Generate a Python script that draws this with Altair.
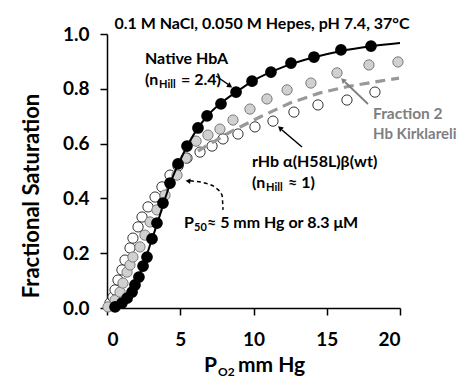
import altair as alt
import pandas as pd

FONT = "Lato"

# ---- data ----
native_x = [0.55, 1.02, 1.37, 1.71, 1.91, 2.18, 2.46, 2.73, 3.07, 3.41, 3.82, 4.30, 4.85,
            5.46, 6.21, 6.83, 7.78, 8.81, 9.90, 11.19, 12.56, 14.13, 15.97, 18.02]
native_y = [0.004, 0.018, 0.036, 0.058, 0.084, 0.113, 0.153, 0.186, 0.252, 0.310, 0.383,
            0.456, 0.526, 0.591, 0.657, 0.701, 0.745, 0.788, 0.828, 0.861, 0.894, 0.916,
            0.942, 0.956]

frac2_x = [0.07, 0.55, 0.89, 1.09, 1.37, 1.57, 1.77, 2.25, 2.59, 2.94, 3.41, 3.96, 4.78,
           5.39, 6.08, 6.89, 7.71, 8.60, 9.76, 10.92, 12.29, 13.92, 15.70, 17.88, 19.86]
frac2_y = [0.004, 0.029, 0.058, 0.091, 0.131, 0.157, 0.186, 0.223, 0.266, 0.314, 0.358,
           0.412, 0.485, 0.547, 0.609, 0.631, 0.653, 0.686, 0.726, 0.763, 0.796, 0.821,
           0.858, 0.887, 0.898]

rhb_x = [0.20, 0.41, 0.55, 0.75, 1.02, 1.23, 1.57, 1.77, 2.12, 2.39, 2.80, 3.28, 3.75,
         4.30, 4.85, 5.46, 6.35, 7.17, 7.92, 8.94, 10.10, 11.33, 12.76, 14.40, 16.38, 18.29]
rhb_y = [0.018, 0.040, 0.066, 0.102, 0.139, 0.175, 0.219, 0.255, 0.296, 0.332, 0.369,
         0.405, 0.442, 0.485, 0.518, 0.547, 0.569, 0.591, 0.617, 0.635, 0.661, 0.682,
         0.715, 0.741, 0.759, 0.788]

fit_x = [0.4, 1, 1.5, 2, 2.5, 3, 3.5, 4, 4.5, 5, 6, 7, 8, 9, 10, 12, 14, 16, 18, 20]
fit_y = [0.0, 0.015, 0.045, 0.095, 0.16, 0.24, 0.32, 0.405, 0.48, 0.54, 0.64, 0.71,
         0.757, 0.795, 0.83, 0.879, 0.913, 0.938, 0.955, 0.967]

dash_x = [6.21, 8.40, 10.44, 12.49, 14.54, 16.59, 18.63, 19.93]
dash_y = [0.573, 0.642, 0.697, 0.748, 0.785, 0.810, 0.828, 0.839]

p50_arrow_x = [7.92, 7.85, 7.44, 6.69, 5.66]
p50_arrow_y = [0.358, 0.412, 0.438, 0.456, 0.464]

x_ticks = [0, 5, 10, 15, 20]
y_ticks = [0.0, 0.2, 0.4, 0.6, 0.8, 1.0]

# ---- geometry of the frame ----
LEFT, TOP, W, H = 107, 34, 293, 274

xscale = alt.Scale(domain=[0, 20], nice=False, zero=False)
yscale = alt.Scale(domain=[0, 1], nice=False)

axis_common = dict(labelFont=FONT, labelFontSize=19, labelFontWeight="bold",
                   labelColor="black", tickColor="black", tickWidth=1.5, tickSize=7,
                   domainColor="black", domainWidth=1.5, grid=False, title=None)

X = alt.X("x:Q", scale=xscale,
          axis=alt.Axis(values=x_ticks, format="d", labelPadding=15, **axis_common))
Y = alt.Y("y:Q", scale=yscale,
          axis=alt.Axis(values=y_ticks, format=".1f", labelPadding=11, **axis_common))


def df(xs, ys):
    return pd.DataFrame({"x": xs, "y": ys})


rhb = alt.Chart(df(rhb_x, rhb_y)).mark_point(
    filled=True, fill="white", stroke="#333333", strokeWidth=1, size=105, opacity=1
).encode(x=X, y=Y)

frac2 = alt.Chart(df(frac2_x, frac2_y)).mark_point(
    filled=True, fill="#d0d0d0", stroke="#7a7a7a", strokeWidth=1, size=105, opacity=1
).encode(x=X, y=Y)

dashed = alt.Chart(df(dash_x, dash_y)).mark_line(
    color="#999999", strokeWidth=3.2, strokeDash=[10, 6]
).encode(x=X, y=Y)

native = alt.Chart(df(native_x, native_y)).mark_point(
    filled=True, fill="black", stroke="black", size=95, opacity=1
).encode(x=X, y=Y)

fit = alt.Chart(df(fit_x, fit_y)).mark_line(
    color="black", strokeWidth=2, interpolate="monotone"
).encode(x=X, y=Y)

p50_curve = alt.Chart(df(p50_arrow_x, p50_arrow_y)).mark_line(
    color="black", strokeWidth=1.5, strokeDash=[4, 3], interpolate="monotone"
).encode(x=X, y=Y)

one = pd.DataFrame({"a": [0]})


def txt(s, x, y, size=16, color="black", align="left", angle=None):
    kw = dict(text=s, font=FONT, fontSize=size, fontWeight="bold", color=color,
              align=align, baseline="middle")
    if angle is not None:
        kw["angle"] = angle
    return alt.Chart(one).mark_text(**kw).encode(
        x=alt.value(x - LEFT), y=alt.value(y - TOP))


def seg(x1, y1, x2, y2, color="black", width=1.5):
    return alt.Chart(one).mark_rule(color=color, strokeWidth=width).encode(
        x=alt.value(x1 - LEFT), y=alt.value(y1 - TOP),
        x2=alt.value(x2 - LEFT), y2=alt.value(y2 - TOP))


def head(x, y, shape, angle, color="black", size=35):
    return alt.Chart(one).mark_point(shape=shape, angle=angle, filled=True,
                                     color=color, size=size, opacity=1).encode(
        x=alt.value(x - LEFT), y=alt.value(y - TOP))


annotations = [
    txt("0.1 M NaCl, 0.050 M Hepes, pH 7.4, 37°C", 262, 24, size=16, align="center"),
    txt("Fractional Saturation", 32, 196, size=22, align="center", angle=270),
    txt("P", 204, 366, size=21),
    txt("O2", 218, 372, size=12),
    txt("mm Hg", 238, 366, size=21),
    txt("Native HbA", 145, 59),
    txt("(n", 145, 80),
    txt("Hill", 159, 85, size=11),
    txt("= 2.4)", 181, 80),
    seg(216, 76, 229, 85),
    head(230, 86, "triangle-right", 33),
    txt("Fraction 2", 373, 114, size=15.5, color="#7f7f7f"),
    txt("Hb Kirklareli", 373, 134, size=15, color="#7f7f7f"),
    seg(368, 104, 345, 82, color="#7f7f7f", width=1.8),
    head(343, 80, "triangle-left", 44, color="#7f7f7f"),
    txt("rHb α(H58L)β(wt)", 252, 162),
    txt("(n", 252, 183),
    txt("Hill", 266, 188, size=11),
    txt("≈ 1)", 288, 183),
    seg(302, 147, 282, 130),
    head(280, 128, "triangle-left", 40),
    txt("P", 184, 223),
    txt("50", 194, 228, size=11),
    txt("≈ 5 mm Hg or 8.3 μM", 207, 223),
    head(188, 181, "triangle-left", 5, size=30),
]

chart = alt.layer(rhb, frac2, dashed, native, fit, p50_curve, *annotations).properties(
    width=W, height=H,
    autosize=alt.AutoSizeParams(type="none"),
    padding={"left": LEFT, "top": TOP, "right": 462 - LEFT - W, "bottom": 381 - TOP - H},
    background="white",
).configure_view(stroke=None)

chart.save("out.html", embed_options={"renderer": "svg", "actions": False})
